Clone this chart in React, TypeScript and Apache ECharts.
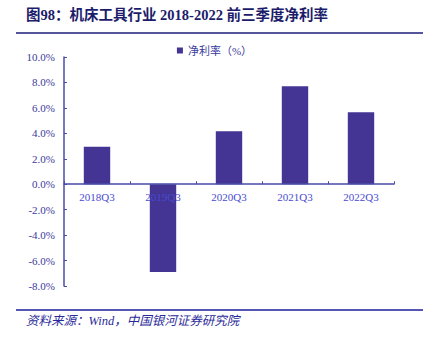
import React, { useEffect, useRef } from "react";
import * as echarts from "echarts";

const categories = ["2018Q3", "2019Q3", "2020Q3", "2021Q3", "2022Q3"];
const netMargin = [2.95, -6.9, 4.17, 7.7, 5.66];
const seriesName = "净利率（%）";
const titleText = "图98：机床工具行业 2018-2022 前三季度净利率";
const sourceText = "资料来源：Wind，中国银河证券研究院";

const SERIF = "'Liberation Serif', 'DejaVu Serif', 'Noto Sans CJK SC', serif";
const AXIS_COLOR = "#4b4ba8";
const TEXT_COLOR = "#3a3a9c";
const XLABEL_COLOR = "#4a4ad0";
const BAR_COLOR = "#443594";

const Y_MIN = -8;
const Y_MAX = 10;
const GRID_TOP = 57;
const GRID_BOTTOM = 57;
const GRID_H = 343 - GRID_TOP - GRID_BOTTOM;

export default function App() {
  const ref = useRef<HTMLDivElement>(null);
  useEffect(() => {
    if (!ref.current) return;
    const chart = echarts.init(ref.current, null, { renderer: "svg" });
    const zeroOffset = -(GRID_H * (0 - Y_MIN)) / (Y_MAX - Y_MIN);
    chart.setOption({
      animation: false,
      backgroundColor: "#ffffff",
      grid: { left: 64, right: 35, top: GRID_TOP, bottom: GRID_BOTTOM, containLabel: false },
      legend: {
        data: [seriesName],
        top: 40,
        left: "center",
        itemWidth: 6,
        itemHeight: 6,
        itemGap: 4,
        icon: "rect",
        textStyle: { color: TEXT_COLOR, fontSize: 11, fontFamily: SERIF },
      },
      xAxis: {
        type: "category",
        data: categories,
        position: "bottom",
        offset: zeroOffset,
        z: 10,
        axisLine: { onZero: false, lineStyle: { color: AXIS_COLOR, width: 1.5 } },
        axisTick: { show: true, inside: true, length: 3, alignWithLabel: false, lineStyle: { color: AXIS_COLOR } },
        axisLabel: { color: XLABEL_COLOR, fontSize: 11, fontFamily: SERIF, margin: 7, hideOverlap: false },
        splitLine: { show: false },
      },
      yAxis: {
        type: "value",
        min: Y_MIN,
        max: Y_MAX,
        interval: 2,
        axisLine: { show: true, lineStyle: { color: AXIS_COLOR, width: 1.5 } },
        axisTick: { show: true, inside: true, length: 3, lineStyle: { color: AXIS_COLOR } },
        axisLabel: {
          color: TEXT_COLOR,
          fontSize: 11,
          fontFamily: SERIF,
          margin: 9,
          formatter: (v: number) => v.toFixed(1) + "%",
        },
        splitLine: { show: false },
      },
      series: [
        {
          name: seriesName,
          type: "bar",
          data: netMargin,
          barWidth: "40%",
          z: 1,
          itemStyle: { color: BAR_COLOR },
        },
      ],
      graphic: [
        {
          type: "text",
          left: 26,
          top: 8,
          style: {
            text: titleText,
            fill: "#1c1c6b",
            font: "bold 14.5px " + SERIF,
          },
        },
        {
          type: "line",
          shape: { x1: 16, y1: 33, x2: 423, y2: 33 },
          style: { stroke: "#1c1c7a", lineWidth: 1.5 },
        },
        {
          type: "line",
          shape: { x1: 16, y1: 310, x2: 423, y2: 310 },
          style: { stroke: "#1c1c9a", lineWidth: 1.5 },
        },
        {
          type: "text",
          left: 26,
          top: 315,
          style: {
            text: sourceText,
            fill: "#2a2a9a",
            font: "italic 12.5px " + SERIF,
          },
        },
      ],
    });
    return () => chart.dispose();
  }, []);
  return <div ref={ref} style={{ width: 429, height: 343, position: "absolute", left: 0, top: 0 }} />;
}
